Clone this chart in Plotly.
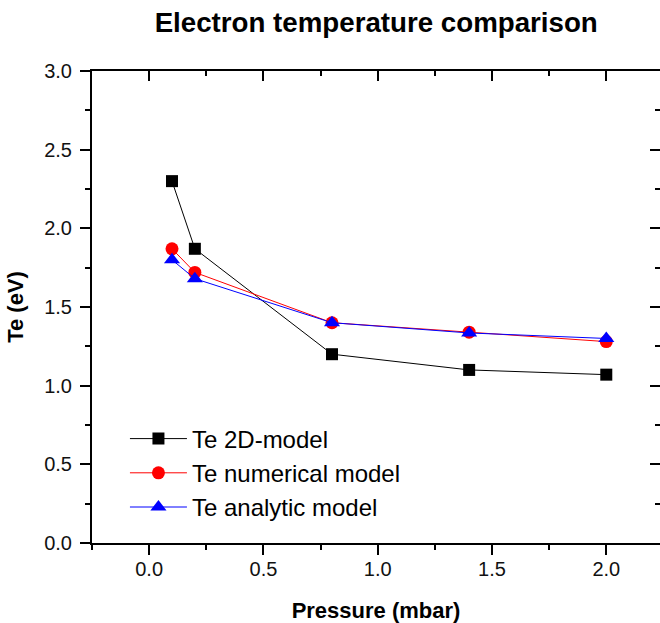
import plotly.graph_objects as go

pressure = [0.1, 0.2, 0.8, 1.4, 2.0]
te_2d = [2.30, 1.87, 1.20, 1.10, 1.07]
te_numerical = [1.87, 1.72, 1.40, 1.34, 1.28]
te_analytic = [1.80, 1.68, 1.40, 1.335, 1.30]

x_ticks = [0.0, 0.5, 1.0, 1.5, 2.0]
y_ticks = [0.0, 0.5, 1.0, 1.5, 2.0, 2.5, 3.0]

FONT = "Liberation Sans, Arial, sans-serif"
XR = [-0.25, 2.235]
YR = [0, 3]

fig = go.Figure()
fig.add_trace(go.Scatter(x=pressure, y=te_2d, name="Te 2D-model", mode="lines+markers",
                         line=dict(color="#000000", width=1),
                         marker=dict(symbol="square", size=12, color="#000000")))
fig.add_trace(go.Scatter(x=pressure, y=te_numerical, name="Te numerical model", mode="lines+markers",
                         line=dict(color="#ff0000", width=1),
                         marker=dict(symbol="circle", size=13, color="#ff0000")))
fig.add_trace(go.Scatter(x=pressure, y=te_analytic, name="Te analytic model", mode="lines+markers",
                         line=dict(color="#0000ff", width=1),
                         marker=dict(symbol="triangle-up", size=14, color="#0000ff")))
# invisible trace to activate mirror axes (top / right)
fig.add_trace(go.Scatter(x=pressure, y=te_2d, xaxis="x2", yaxis="y2", mode="lines",
                         opacity=0, showlegend=False, hoverinfo="skip"))

common = dict(linecolor="black", linewidth=2, tickcolor="black",
              tickwidth=2, ticklen=10, showgrid=False, zeroline=False)

fig.update_layout(
    width=660, height=623,
    margin=dict(l=92, r=0, t=71, b=80),
    paper_bgcolor="white", plot_bgcolor="white",
    title=dict(text="<b>Electron temperature comparison</b>", x=0.57, xanchor="center",
               y=0.965, yanchor="middle", font=dict(family=FONT, size=27.7, color="black")),
    font=dict(family=FONT, color="black"),
    xaxis=dict(range=XR, tickvals=x_ticks, ticktext=[f"{v:.1f}" for v in x_ticks],
               showline=True,
               ticks="outside", tickfont=dict(size=20, family=FONT, color="#111"),
               ticklabelstandoff=-3,
               minor=dict(dtick=0.25, tick0=0, ticks="outside", ticklen=5, tickwidth=2, tickcolor="black"),
               title=dict(text="<b>Pressure (mbar)</b>", font=dict(size=22, family=FONT), standoff=24),
               **common),
    yaxis=dict(range=YR, tickvals=y_ticks, ticktext=[f"{v:.1f}" for v in y_ticks],
               showline=True,
               ticks="outside", tickfont=dict(size=20, family=FONT, color="#111"),
               ticklabelstandoff=4,
               minor=dict(dtick=0.25, tick0=0, ticks="outside", ticklen=5, tickwidth=2, tickcolor="black"),
               title=dict(text="<b>Te (eV)</b>", font=dict(size=22, family=FONT), standoff=14),
               **common),
    xaxis2=dict(range=XR, overlaying="x", side="top", tickvals=x_ticks, showticklabels=False,
                showline=True, ticks="inside",
                minor=dict(dtick=0.25, tick0=0, ticks="inside", ticklen=5, tickwidth=2, tickcolor="black"),
                **common),
    yaxis2=dict(range=YR, overlaying="y", side="right", tickvals=y_ticks, showticklabels=False,
                showline=False, ticks="inside",
                minor=dict(dtick=0.25, tick0=0, ticks="inside", ticklen=5, tickwidth=2, tickcolor="black"),
                **common),
    legend=dict(x=0.058, y=0.268, xanchor="left", yanchor="top", bgcolor="rgba(0,0,0,0)",
                font=dict(size=24, family=FONT, color="black"), itemwidth=57,
                tracegroupgap=0),
    showlegend=True,
)

fig.write_html("out.html")
